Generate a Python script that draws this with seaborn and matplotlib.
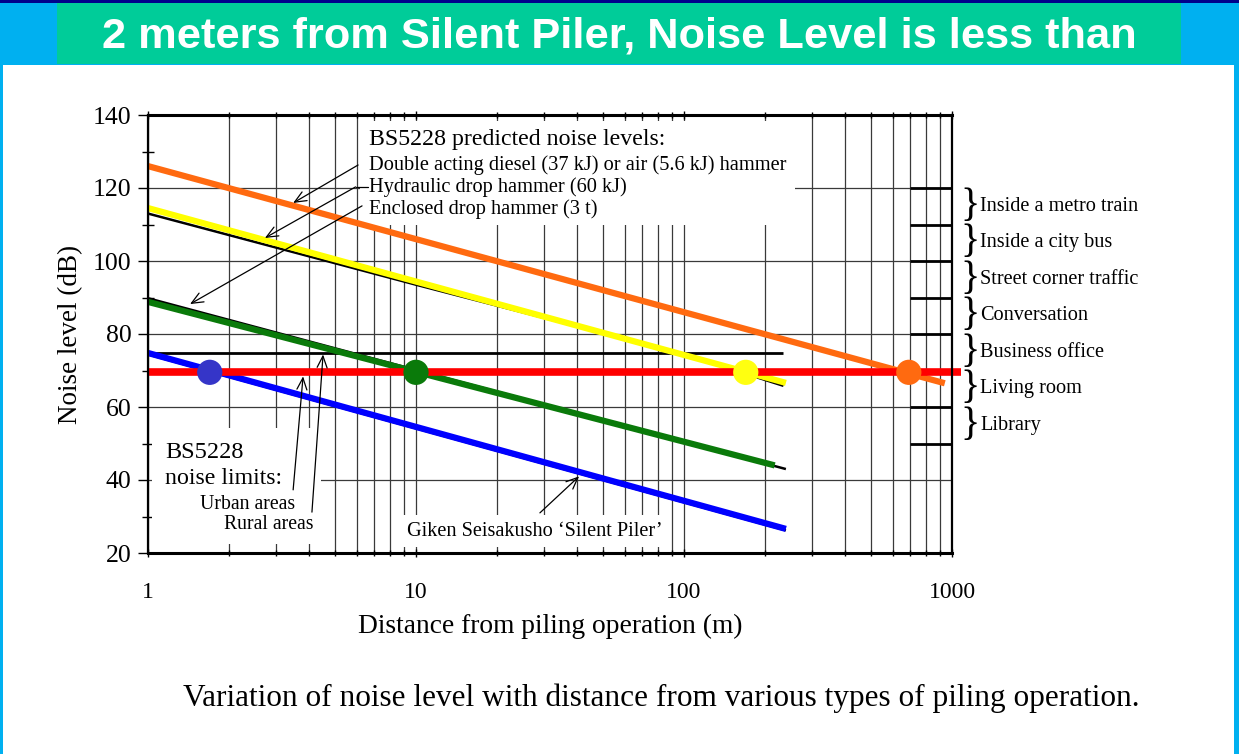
import matplotlib.pyplot as plt
import matplotlib.patches as mpatches
import matplotlib.transforms as mtransforms
from matplotlib.ticker import LogLocator, MultipleLocator, NullFormatter, FixedLocator, FixedFormatter
import seaborn as sns
import pandas as pd

# ---- data (distance in m, noise level in dB) ----
diesel_dist = [1, 940]
diesel_db = [126, 66.5]

hydraulic_dist = [1, 240]
hydraulic_db = [114.5, 66.6]
hydraulic_orig_dist = [1, 10, 100, 235]
hydraulic_orig_db = [113, 93.5, 74.5, 65.8]

enclosed_dist = [1, 218]
enclosed_db = [88.8, 44]
enclosed_orig_dist = [1, 240]
enclosed_orig_db = [89.8, 43]

piler_dist = [1, 240]
piler_db = [74.8, 26.6]

limit_dist = [1, 1080]
limit_db = [69.5, 69.5]
rural_dist = [1, 235]
rural_db = [74.8, 74.8]

cross_dist = [1.7, 10, 170, 690]
cross_db = [69.5, 69.5, 69.5, 69.5]
cross_colors = ['#3535c8', '#0a7a0a', '#ffff10', '#ff6a10']

band_edges = [50, 60, 70, 80, 90, 100, 110, 120]
band_labels = ['Library', 'Living room', 'Business office', 'Conversation',
               'Street corner traffic', 'Inside a city bus', 'Inside a metro train']
band_start = 700

x_ticks = [1, 10, 100, 1000]
x_labels = ['1', '10', '100', '1000']
y_ticks = [20, 40, 60, 80, 100, 120, 140]

sns.set_theme(style='white')
plt.rcParams['font.family'] = ['Liberation Serif', 'DejaVu Serif']
plt.rcParams['text.color'] = 'black'
plt.rcParams['axes.labelcolor'] = 'black'
plt.rcParams['xtick.color'] = 'black'
plt.rcParams['ytick.color'] = 'black'

fig = plt.figure(figsize=(12.39, 7.54), dpi=100)
fig.patch.set_facecolor('#00b0f0')

# slide background pieces
W, H = 1239, 754
fig.add_artist(mpatches.Rectangle((3 / W, 0), 1231 / W, (H - 65) / H, transform=fig.transFigure,
                                  facecolor='white', edgecolor='none', zorder=0))
fig.add_artist(mpatches.Rectangle((57 / W, (H - 64) / H), 1124 / W, 61 / H, transform=fig.transFigure,
                                  facecolor='#00cc99', edgecolor='none', zorder=0))
fig.add_artist(mpatches.Rectangle((0, 1 - 3 / H), 1, 3 / H, transform=fig.transFigure,
                                  facecolor='#00008b', edgecolor='none', zorder=0))
fig.text(619 / W, 1 - 37 / H, '2 meters from Silent Piler, Noise Level is less than',
         ha='center', va='center', color='white', fontsize=31.2, fontweight='bold',
         family=['Liberation Sans', 'DejaVu Sans'])

ax = fig.add_axes([148 / W, (H - 553) / H, 804 / W, 438 / H])
ax.set_facecolor('none')
ax.set_xscale('log')
ax.set_xlim(1, 1000)
ax.set_ylim(20, 140)
ax.set_axisbelow(True)

ax.grid(True, which='both', axis='x', color='#3a3a3a', lw=0.9)
ax.grid(True, which='major', axis='y', color='#3a3a3a', lw=0.9)

# white label boxes breaking the grid
for (x0, y0, x1, y1) in [(0.264, 0.748, 0.805, 0.986), (0.005, 0.02, 0.215, 0.285), (0.316, 0.014, 0.647, 0.087)]:
    ax.add_patch(mpatches.Rectangle((x0, y0), x1 - x0, y1 - y0, transform=ax.transAxes,
                                    facecolor='white', edgecolor='none', zorder=1))

# original black curves
def draw(xs, ys, color, lw, z):
    df = pd.DataFrame({'d': xs, 'db': ys})
    sns.lineplot(data=df, x='d', y='db', ax=ax, color=color, lw=lw, estimator=None,
                 sort=False, zorder=z, legend=False)

draw(hydraulic_orig_dist, hydraulic_orig_db, 'black', 1.8, 2)
draw(enclosed_orig_dist, enclosed_orig_db, 'black', 1.8, 2)
draw(piler_dist, [v - 0.4 for v in piler_db], 'black', 1.8, 2)
draw(rural_dist, rural_db, 'black', 2.0, 2)

# band boundary marks on the right
ax.hlines(band_edges, band_start, 1000, color='black', lw=2.0, zorder=2)

# highlighted lines
draw(diesel_dist, diesel_db, '#ff6a10', 4.5, 3)
draw(hydraulic_dist, hydraulic_db, '#ffff00', 4.5, 3)
draw(enclosed_dist, enclosed_db, '#0a7a0a', 4.5, 3)
draw(piler_dist, piler_db, '#0000ff', 4.5, 3)
for ln in ax.lines:
    ln.set_solid_capstyle('butt')

df_lim = pd.DataFrame({'d': limit_dist, 'db': limit_db})
sns.lineplot(data=df_lim, x='d', y='db', ax=ax, color='#ff0000', lw=5.5, estimator=None,
             zorder=4, legend=False)
ax.lines[-1].set_clip_on(False)
ax.lines[-1].set_solid_capstyle('butt')

df_cross = pd.DataFrame({'d': cross_dist, 'db': cross_db, 'c': cross_colors})
sns.scatterplot(data=df_cross, x='d', y='db', hue='c', palette=dict(zip(cross_colors, cross_colors)),
                s=330, edgecolor='none', ax=ax, zorder=5, legend=False)

# axes styling
for side in ['top', 'bottom']:
    ax.spines[side].set_linewidth(2.2)
for side in ['left', 'right']:
    ax.spines[side].set_linewidth(1.6)
for s in ax.spines.values():
    s.set_color('black')
    s.set_zorder(6)

ax.xaxis.set_major_locator(FixedLocator(x_ticks))
ax.xaxis.set_major_formatter(FixedFormatter(x_labels))
ax.xaxis.set_minor_locator(LogLocator(base=10, subs=range(2, 10)))
ax.xaxis.set_minor_formatter(NullFormatter())
ax.yaxis.set_major_locator(FixedLocator(y_ticks))
ax.yaxis.set_minor_locator(MultipleLocator(10))
ax.tick_params(axis='x', which='major', direction='inout', length=6, width=1, pad=18,
               labelsize=17, bottom=True, top=True, colors='black')
ax.tick_params(axis='x', which='minor', direction='inout', length=5, width=1, bottom=True, top=True)
ax.tick_params(axis='y', which='major', direction='out', length=7, width=1, pad=5,
               labelsize=18.5, left=True, colors='black')
ax.tick_params(axis='y', which='minor', direction='inout', length=8, width=1, left=True)

ax.set_xlabel('Distance from piling operation (m)', fontsize=19.8, labelpad=8, color='black')
ax.set_ylabel('Noise level (dB)', fontsize=19.5, labelpad=7, color='black')

# text blocks
ax.text(0.275, 0.943, 'BS5228 predicted noise levels:', transform=ax.transAxes,
        fontsize=17.2, va='center', ha='left', zorder=6)
for yy, txt in zip([0.886, 0.836, 0.786],
                   ['Double acting diesel (37 kJ) or air (5.6 kJ) hammer',
                    'Hydraulic drop hammer (60 kJ)', 'Enclosed drop hammer (3 t)']):
    ax.text(0.275, yy, txt, transform=ax.transAxes, fontsize=14.7, va='center', ha='left', zorder=6)

ax.text(0.021, 0.230, 'BS5228', transform=ax.transAxes, fontsize=17.5, va='center', zorder=6)
ax.text(0.021, 0.171, 'noise limits:', transform=ax.transAxes, fontsize=17.2, va='center', zorder=6)
ax.text(0.065, 0.111, 'Urban areas', transform=ax.transAxes, fontsize=14.2, va='center', zorder=6)
ax.text(0.095, 0.064, 'Rural areas', transform=ax.transAxes, fontsize=14.2, va='center', zorder=6)
ax.text(0.322, 0.050, 'Giken Seisakusho \u2018Silent Piler\u2019', transform=ax.transAxes,
        fontsize=14.6, va='center', zorder=6)

arrow_kw = dict(arrowstyle='->,head_length=0.7,head_width=0.3', color='black', lw=0.9,
                shrinkA=0, shrinkB=0)
leaders = [((6.08, 126.3), (3.48, 115.9)),
           ((5.95, 120.3), (2.73, 106.3)),
           ((6.29, 115.1), (1.435, 88.2)),
           ((3.48, 37.3), (3.79, 68.4)),
           ((4.09, 31.2), (4.5, 74.4)),
           ((29.0, 31.0), (40.6, 41.0))]
for start, tip in leaders:
    ax.annotate('', xy=tip, xytext=start, arrowprops=arrow_kw, zorder=6)
ax.plot([5.95, 6.6], [120.3, 120.3], color='black', lw=0.9, zorder=6)

# ambient noise bands on the right
blend = mtransforms.blended_transform_factory(ax.transAxes, ax.transData)
for lo, hi, lab in zip(band_edges[:-1], band_edges[1:], band_labels):
    mid = (lo + hi) / 2
    ax.text(1.022, mid, '}', transform=blend, fontsize=29, va='center', ha='center', clip_on=False)
    ax.text(1.035, mid, lab, transform=blend, fontsize=14.6, va='center', ha='left', clip_on=False)

fig.text(661 / W, 1 - 698 / H, 'Variation of noise level with distance from various types of piling operation.',
         ha='center', va='center', fontsize=22.5, color='black')

fig.savefig('out.png', dpi=100)
